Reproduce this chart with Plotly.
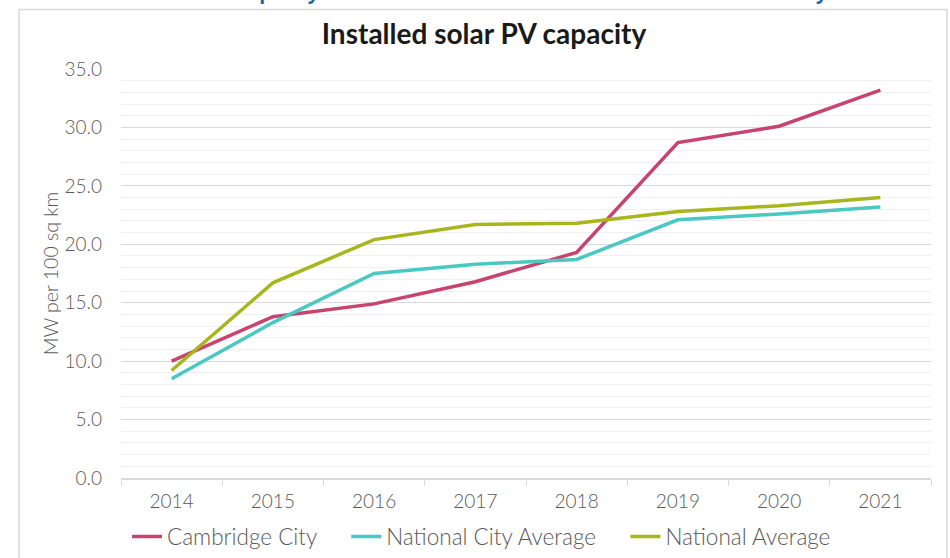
import plotly.graph_objects as go

years = ["2014", "2015", "2016", "2017", "2018", "2019", "2020", "2021"]
cambridge_city = [10.0, 13.8, 14.9, 16.8, 19.3, 28.7, 30.1, 33.2]
national_city_avg = [8.5, 13.3, 17.5, 18.3, 18.7, 22.1, 22.6, 23.2]
national_avg = [9.2, 16.7, 20.4, 21.7, 21.8, 22.8, 23.3, 24.0]

series_names = ["Cambridge City", "National City Average", "National Average"]
series_values = [cambridge_city, national_city_avg, national_avg]
series_colors = ["#C8436E", "#4AC8C2", "#A8B61E"]

W, H = 950, 558
L, R, T, B = 121, 19, 68.5, 80
PW, PH = W - L - R, H - T - B

def px_x(p):
    return (p - L) / PW

def px_y(p):
    return (H - B - p) / PH

FONT = "Lato, 'Open Sans', sans-serif"
PAD = "\u00a0" * 4

fig = go.Figure()
for name, vals, col in zip(series_names, series_values, series_colors):
    fig.add_trace(go.Scatter(
        x=years, y=vals, name=name + PAD, mode="lines",
        line=dict(color=col, width=3.5),
        hovertemplate=name + ": %{y:.1f}<extra></extra>",
    ))

fig.update_layout(
    width=W, height=H,
    margin=dict(l=L, r=R, t=T, b=B, autoexpand=False),
    paper_bgcolor="white", plot_bgcolor="white",
    font=dict(family=FONT, color="#595959", size=17),
    title=dict(
        text="Installed solar PV capacity",
        x=484 / W, xanchor="center", xref="container",
        y=1 - 34 / H, yanchor="middle",
        font=dict(family=FONT, size=28, color="#1a1a1a", weight="bold"),
    ),
    showlegend=True,
    legend=dict(
        orientation="h", x=px_x(127), xanchor="left",
        y=px_y(537), yanchor="middle",
        font=dict(family=FONT, size=22.5, color="#595959", weight=300),
        bgcolor="rgba(0,0,0,0)", traceorder="normal",
        itemwidth=30,
    ),
    xaxis=dict(
        type="category", range=[-0.5, 7.5], automargin=False,
        showgrid=False, showline=True, linecolor="#D9D9D9", linewidth=1.5,
        ticks="outside", tickson="boundaries", ticklen=6, tickcolor="#D9D9D9",
        tickwidth=1.3, ticklabelstandoff=5,
        tickfont=dict(family=FONT, size=19, color="#595959", weight=300),
        zeroline=False, fixedrange=True,
    ),
    yaxis=dict(
        range=[0, 35], tick0=0, dtick=5, tickformat=".1f", automargin=False,
        showgrid=True, gridcolor="#D9D9D9", gridwidth=1.3,
        minor=dict(dtick=1, showgrid=True, gridcolor="#F0F0F0", gridwidth=1),
        showline=False, zeroline=False,
        ticks="", ticklabelstandoff=18,
        tickfont=dict(family=FONT, size=19, color="#595959", weight=300),
        title=dict(text="MW per 100 sq km", standoff=0,
                   font=dict(family=FONT, size=19.5, color="#595959", weight=300)),
        fixedrange=True,
    ),
)

# chart frame border
fig.add_shape(type="rect", xref="paper", yref="paper",
              x0=px_x(19), x1=px_x(947), y0=px_y(580), y1=px_y(9),
              line=dict(color="#D9D9D9", width=1.5), fillcolor="rgba(0,0,0,0)",
              layer="below")

# slide heading, clipped by the top edge of the page
fig.add_annotation(
    xref="paper", yref="paper", x=px_x(151), y=px_y(6),
    xanchor="left", yanchor="bottom", showarrow=False,
    text="Solar PV capacity has increased much faster here than across the city",
    font=dict(family="'Open Sans', sans-serif", size=19.5, color="#1F64A6", weight="bold"),
)

fig.write_html("out.html", config={"displayModeBar": False},
               post_script="document.body.style.margin='0';")
